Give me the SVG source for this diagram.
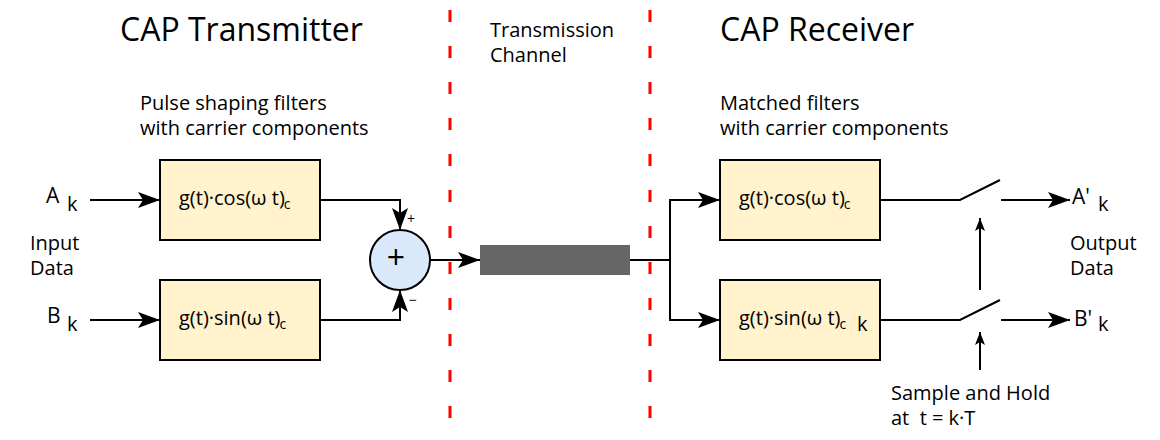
<svg xmlns="http://www.w3.org/2000/svg" width="1160" height="440" viewBox="0 0 1160 440">
<style>
text{font-family:"Open Sans","Noto Sans",sans-serif;fill:#000}
.t{font-size:32px}
.m{font-size:20px}
.f{font-size:20px}
.s{font-size:14px}
.box{fill:#fff2cc;stroke:#000;stroke-width:2}
.ln{fill:none;stroke:#000;stroke-width:2}
.red{fill:none;stroke:#ff0000;stroke-width:3;stroke-dasharray:12 24}
</style>
<defs>
<marker id="ar" markerUnits="userSpaceOnUse" viewBox="0 0 22 16" markerWidth="22" markerHeight="16" refX="22" refY="8" orient="auto">
<path d="M0,0 L22,8 L0,16 L5,8 Z" fill="#000"/>
</marker>
<marker id="ars" markerUnits="userSpaceOnUse" viewBox="0 0 13 10" markerWidth="13" markerHeight="10" refX="13" refY="5" orient="auto">
<path d="M0,0 L13,5 L0,10 L3,5 Z" fill="#000"/>
</marker>
</defs>
<rect width="1160" height="440" fill="#fff"/>

<g id="dividers">
<line class="red" x1="450" y1="10" x2="450" y2="420"/>
<line class="red" x1="650" y1="10" x2="650" y2="420"/>
</g>

<g id="labels">
<text class="t" x="120" y="41">CAP Transmitter</text>
<text class="t" x="720" y="41">CAP Receiver</text>
<text class="m" x="490" y="37">Transmission</text>
<text class="m" x="490" y="62">Channel</text>
<text class="m" x="140" y="110">Pulse shaping filters</text>
<text class="m" x="140" y="135">with carrier components</text>
<text class="m" x="720" y="110">Matched filters</text>
<text class="m" x="720" y="135">with carrier components</text>
<text class="m" x="30" y="250">Input</text>
<text class="m" x="30" y="275">Data</text>
<text class="m" x="1070" y="250">Output</text>
<text class="m" x="1070" y="275">Data</text>
<text class="m" x="891" y="400">Sample and Hold</text>
<text class="m" x="891" y="425" xml:space="preserve">at  t = k·T</text>
<text style="font-size:21px" x="46" y="203">A</text>
<text class="m" x="67" y="211">k</text>
<text style="font-size:21px" x="47" y="323">B</text>
<text class="m" x="67" y="331">k</text>
<text style="font-size:21px" x="1072" y="204">A'</text>
<text class="m" x="1098" y="211">k</text>
<text style="font-size:21px" x="1074" y="326">B'</text>
<text class="m" x="1098" y="331">k</text>
</g>

<g id="tx-cos">
<rect class="box" x="160" y="160" width="160" height="80"/>
<text class="f" x="179" y="205">g(t)·cos(ω t)<tspan class="s" dx="-1" dy="4">c</tspan></text>
</g>
<g id="tx-sin">
<rect class="box" x="160" y="280" width="160" height="80"/>
<text class="f" x="179" y="325">g(t)·sin(ω t)<tspan class="s" dx="-1" dy="4">c</tspan></text>
</g>
<g id="sum">
<circle cx="400" cy="260" r="30" fill="#dae8fc" stroke="#000" stroke-width="2"/>
<text x="396" y="269" text-anchor="middle" style="font-size:32px">+</text>
<text x="407" y="224" style="font-size:14px">+</text>
<text x="409" y="305" style="font-size:14px">−</text>
</g>
<g id="channel">
<rect x="480" y="245" width="150" height="30" fill="#666666"/>
</g>
<g id="rx-cos">
<rect class="box" x="720" y="160" width="160" height="80"/>
<text class="f" x="739" y="205">g(t)·cos(ω t)<tspan class="s" dx="-1" dy="4">c</tspan></text>
</g>
<g id="rx-sin">
<rect class="box" x="720" y="280" width="160" height="80"/>
<text class="f" x="739" y="325">g(t)·sin(ω t)<tspan class="s" dx="-1" dy="4">c</tspan></text>
<text class="f" x="857" y="331">k</text>
</g>

<g id="connectors">
<line class="ln" x1="90" y1="200" x2="160" y2="200" marker-end="url(#ar)"/>
<line class="ln" x1="90" y1="320" x2="160" y2="320" marker-end="url(#ar)"/>
<polyline class="ln" points="320,200 400,200 400,230" marker-end="url(#ar)"/>
<polyline class="ln" points="320,320 400,320 400,290" marker-end="url(#ar)"/>
<line class="ln" x1="430" y1="260" x2="480" y2="260" marker-end="url(#ar)"/>
<line class="ln" x1="630" y1="260" x2="670" y2="260"/>
<polyline class="ln" points="670,260 670,200 720,200" marker-end="url(#ar)"/>
<polyline class="ln" points="670,260 670,320 720,320" marker-end="url(#ar)"/>
<polyline class="ln" points="880,200 960,200 1000,180"/>
<polyline class="ln" points="880,320 960,320 1000,300"/>
<line class="ln" x1="1001" y1="200" x2="1070" y2="200" marker-end="url(#ar)"/>
<line class="ln" x1="1001" y1="320" x2="1070" y2="320" marker-end="url(#ar)"/>
<line class="ln" x1="980" y1="290" x2="980" y2="218" marker-end="url(#ars)"/>
<line class="ln" x1="980" y1="370" x2="980" y2="332" marker-end="url(#ars)"/>
</g>
</svg>
